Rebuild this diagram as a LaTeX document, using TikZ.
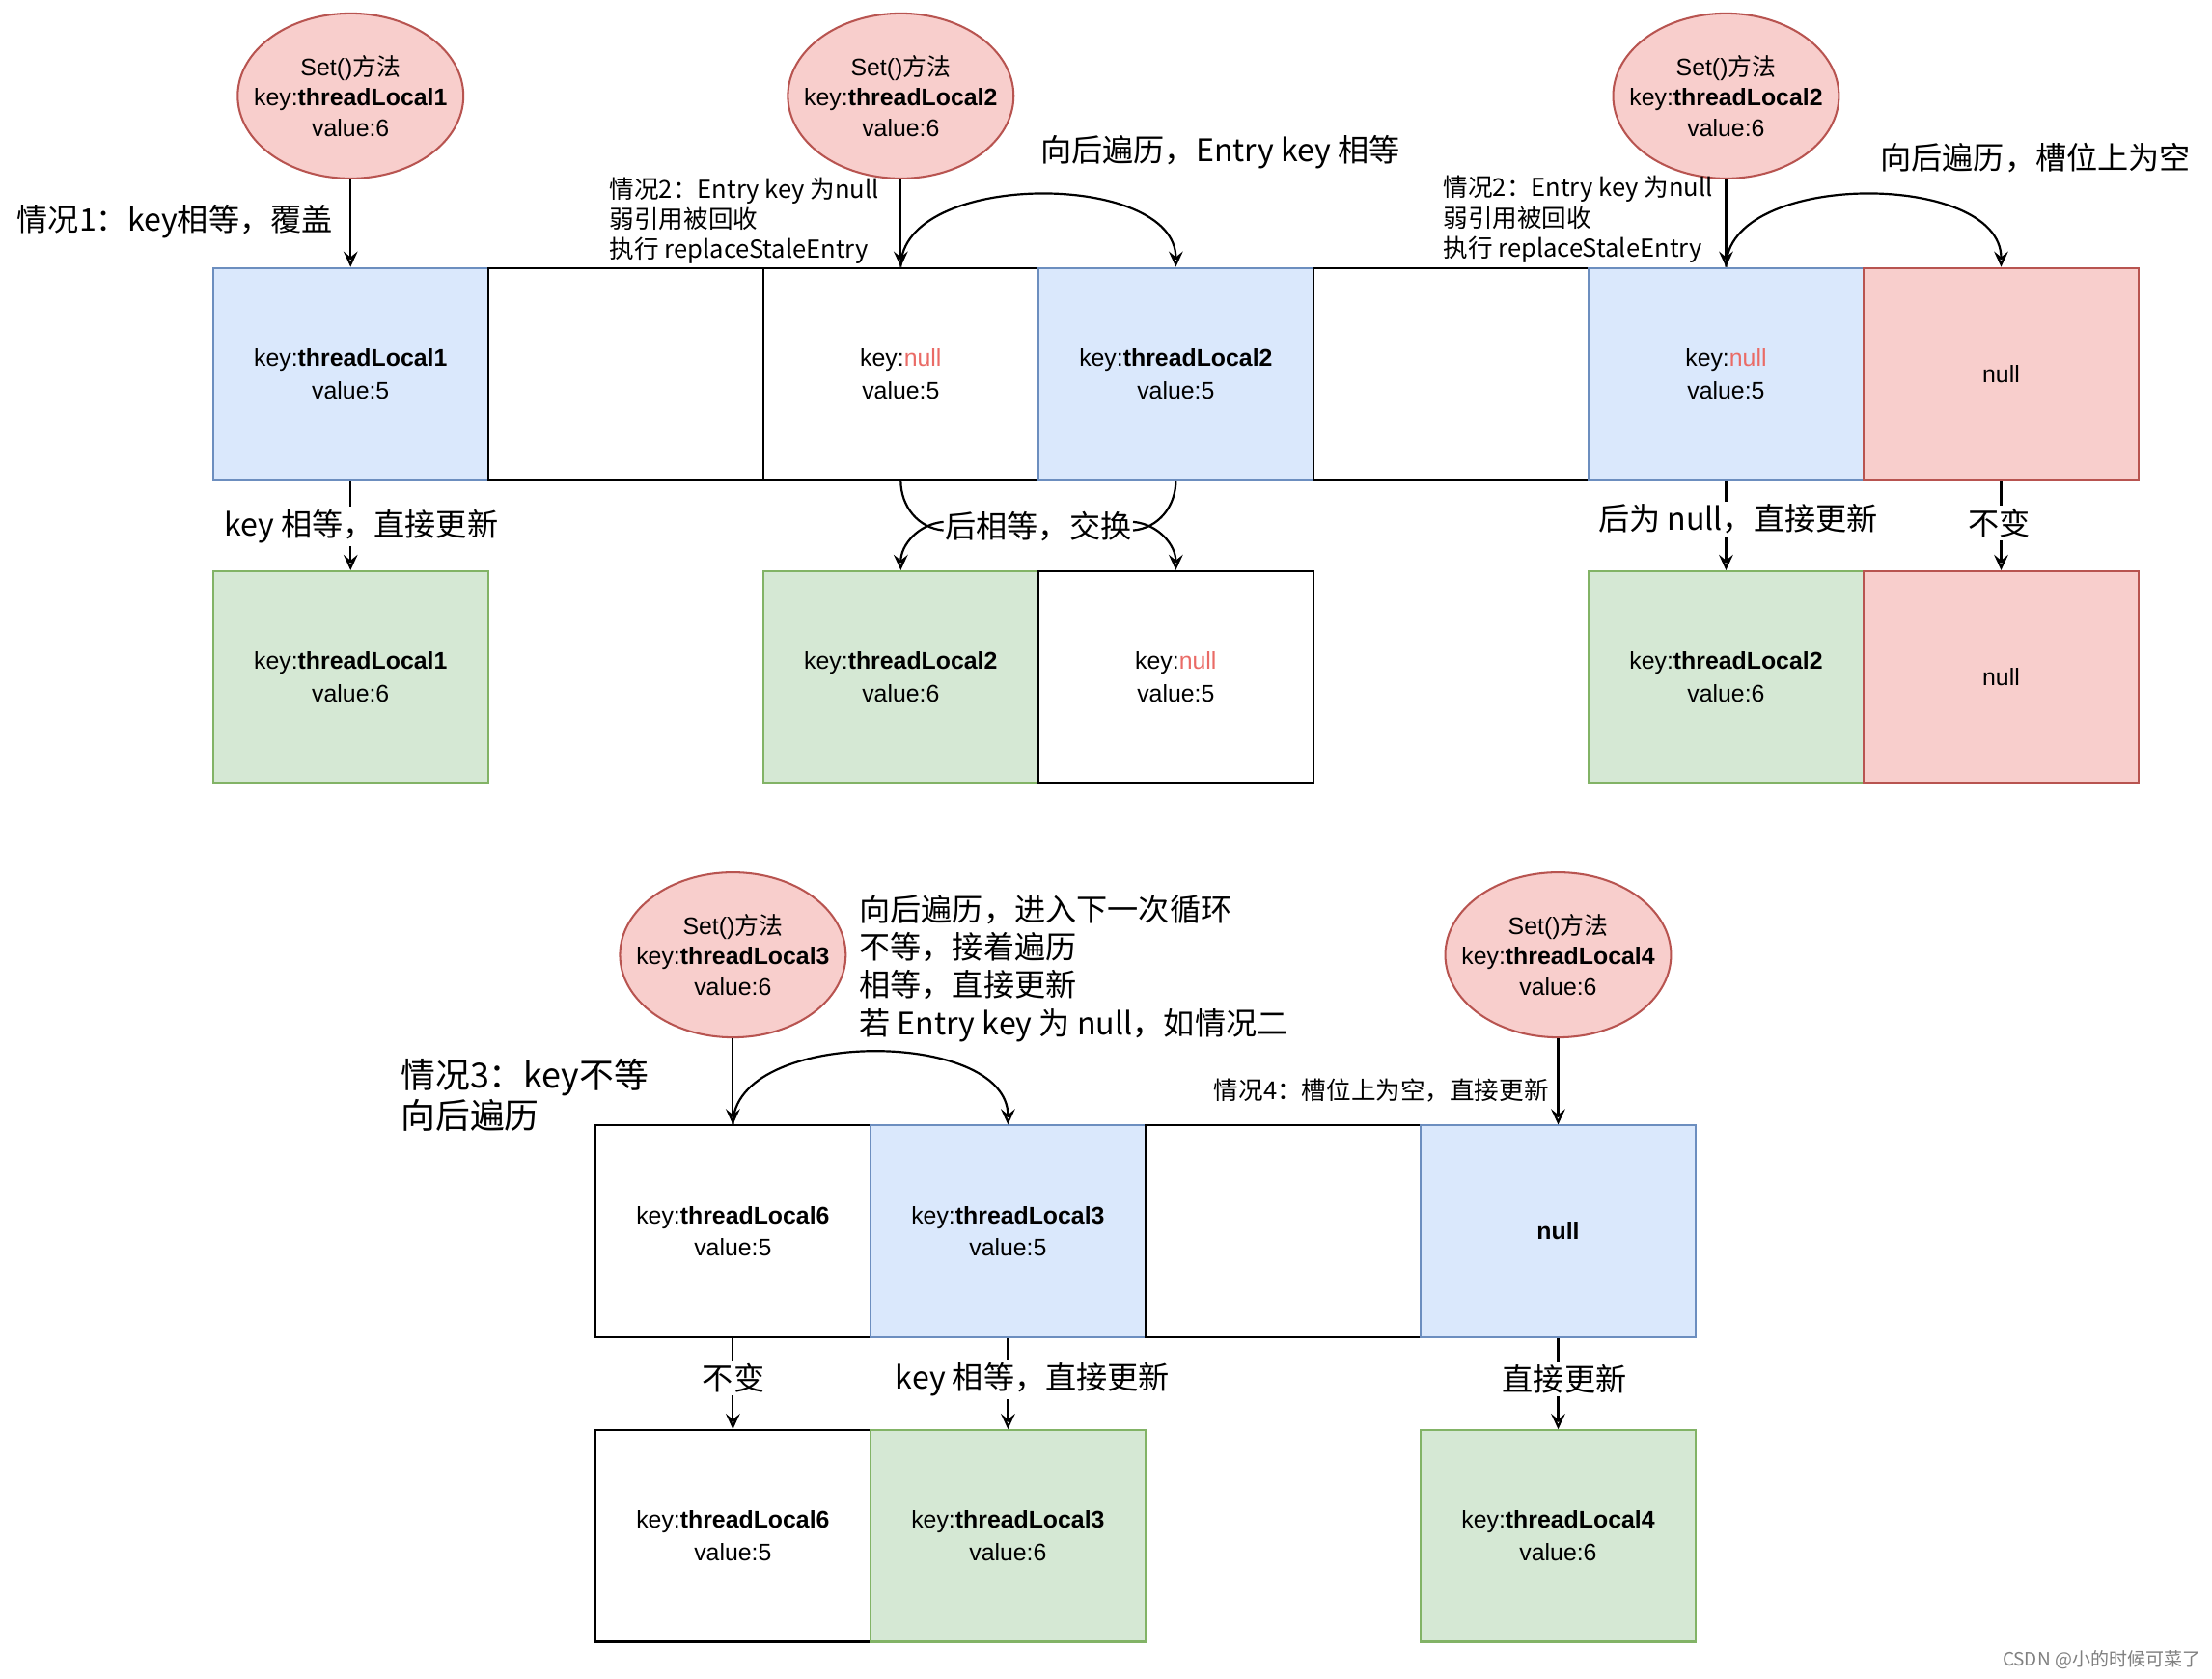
\documentclass[tikz,border=0pt]{standalone}
\usepackage{fontspec}
\setmainfont{Liberation Sans}
\newfontfamily\cjk{Noto Sans CJK SC}
\usetikzlibrary{shapes.geometric,arrows.meta}
\definecolor{bluef}{HTML}{DAE8FC}
\definecolor{blued}{HTML}{6C8EBF}
\definecolor{greenf}{HTML}{D5E8D4}
\definecolor{greend}{HTML}{82B366}
\definecolor{redf}{HTML}{F8CECC}
\definecolor{redd}{HTML}{B85450}
\definecolor{nullred}{HTML}{EA6B66}
\tikzset{
 cell/.style={draw, line width=1.4pt, minimum width=195pt, minimum height=150pt, inner sep=0pt, align=center, font=\fontsize{17}{23}\selectfont},
 bcell/.style={cell, fill=bluef, draw=blued},
 gcell/.style={cell, fill=greenf, draw=greend},
 rcell/.style={cell, fill=redf, draw=redd},
 wcell/.style={cell, fill=white, draw=black},
 setop/.style={ellipse, draw=redd, fill=redf, line width=1.4pt, minimum width=160pt, minimum height=117pt, inner xsep=-25pt, inner ysep=-5pt, align=center, font=\fontsize{17}{21.5}\selectfont},
 conn/.style={line width=1.5pt, -{Stealth[open,length=11pt,width=10pt,inset=4pt]}},
 plainline/.style={line width=1.5pt},
 big/.style={font=\cjk\fontsize{22}{27}\selectfont, inner sep=1pt},
 small/.style={font=\cjk\fontsize{17.5}{21.5}\selectfont, inner sep=1pt},
 elab/.style={big, fill=white, inner sep=2pt},
}
\begin{document}
\begin{tikzpicture}[x=1pt,y=-1pt]
\useasboundingbox (0,0) rectangle (1568,1190);
\fill[white] (0,0) rectangle (1568,1190);

% ellipses
\node[setop] (e1) at (248.5,68) {Set(){\cjk 方法}\\key:\textbf{threadLocal1}\\value:6};
\node[setop] (e2) at (638.5,68) {Set(){\cjk 方法}\\key:\textbf{threadLocal2}\\value:6};
\node[setop] (e3) at (1223.5,68) {Set(){\cjk 方法}\\key:\textbf{threadLocal2}\\value:6};
\node[setop] (e4) at (519.5,677) {Set(){\cjk 方法}\\key:\textbf{threadLocal3}\\value:6};
\node[setop] (e5) at (1104.5,677) {Set(){\cjk 方法}\\key:\textbf{threadLocal4}\\value:6};

% row 1
\node[bcell] (a1) at (248.5,265) {key:\textbf{threadLocal1}\\value:5};
\node[wcell] (a2) at (443.5,265) {};
\node[wcell] (a3) at (638.5,265) {key:\textcolor{nullred}{null}\\value:5};
\node[bcell] (a4) at (833.5,265) {key:\textbf{threadLocal2}\\value:5};
\node[wcell] (a5) at (1028.5,265) {};
\node[bcell] (a6) at (1223.5,265) {key:\textcolor{nullred}{null}\\value:5};
\node[rcell] (a7) at (1418.5,265) {null};

% row 2
\node[gcell] (b1) at (248.5,480) {key:\textbf{threadLocal1}\\value:6};
\node[gcell] (b3) at (638.5,480) {key:\textbf{threadLocal2}\\value:6};
\node[wcell] (b4) at (833.5,480) {key:\textcolor{nullred}{null}\\value:5};
\node[gcell] (b6) at (1223.5,480) {key:\textbf{threadLocal2}\\value:6};
\node[rcell] (b7) at (1418.5,480) {null};

% row 3
\node[wcell] (c1) at (519.5,873) {key:\textbf{threadLocal6}\\value:5};
\node[bcell] (c2) at (714.5,873) {key:\textbf{threadLocal3}\\value:5};
\node[wcell] (c3) at (909.5,873) {};
\node[bcell] (c4) at (1104.5,873) {\textbf{null}};

% row 4
\node[wcell] (d1) at (519.5,1089) {key:\textbf{threadLocal6}\\value:5};
\node[gcell] (d2) at (714.5,1089) {key:\textbf{threadLocal3}\\value:6};
\node[gcell] (d4) at (1104.5,1089) {key:\textbf{threadLocal4}\\value:6};

% free text labels
\node[big, anchor=west] (t1) at (11,157) {情况1：key相等，覆盖};
\node[small, anchor=west, align=left] (t2) at (431,156.5) {情况2：Entry key 为null\\弱引用被回收\\执行 replaceStaleEntry};
\node[big] (t3) at (865,108) {向后遍历，Entry key 相等};
\node[small, anchor=west, align=left] (t4) at (1022,155.5) {情况2：Entry key 为null\\弱引用被回收\\执行 replaceStaleEntry};
\node[big] (t5) at (1443,112) {向后遍历，槽位上为空};
\node[big, anchor=west, align=left] (t6) at (608,686.5) {向后遍历，进入下一次循环\\不等，接着遍历\\相等，直接更新\\若 Entry key 为 null，如情况二};
\node[font=\cjk\fontsize{24.5}{29}\selectfont, inner sep=1pt, anchor=west, align=left] (t7) at (283,776.5) {情况3：key不等\\向后遍历};
\node[small, anchor=east] (t8) at (1099,773) {情况4：槽位上为空，直接更新};
\node[font=\cjk\fontsize{13}{15}\selectfont, text=gray, anchor=east, inner sep=0pt] (wm) at (1560,1177) {CSDN @小的时候可菜了};

% connectors from ellipses
\draw[conn] (e1.south) -- (a1.north);
\draw[conn] (e2.south) -- (a3.north);
\draw[conn] (e3.south) -- (a6.north);
\draw[conn] (e4.south) -- (c1.north);
\draw[conn] (e5.south) -- (c4.north);

% traversal arcs
\draw[conn] (a3.north) to[out=90,in=90,looseness=0.9] (a4.north);
\draw[conn] (a6.north) to[out=90,in=90,looseness=0.9] (a7.north);
\draw[conn] (c1.north) to[out=90,in=90,looseness=0.9] (c2.north);

% vertical update edges with labels
\draw[conn] (a1.south) -- (b1.north);
\node[elab] (l1) at (256,373) {key 相等，直接更新};
\draw[conn] (a6.south) -- (b6.north);
\node[elab] (l3) at (1232,368) {后为 null，直接更新};
\draw[conn] (a7.south) -- (b7.north);
\node[elab] (l4) at (1417,371) {不变};
\draw[conn] (c1.south) -- (d1.north);
\node[elab] (l5) at (520,977) {不变};
\draw[conn] (c2.south) -- (d2.north);
\node[elab] (l6) at (732,978) {key 相等，直接更新};
\draw[conn] (c4.south) -- (d4.north);
\node[elab] (l7) at (1109,978) {直接更新};

% swap edges
\node[big] (l2) at (736,373) {后相等，交换};
\draw[plainline] (a3.south) to[out=-90,in=175] ([yshift=-3pt]l2.west);
\draw[conn] ([yshift=3pt]l2.west) to[out=185,in=90] (b3.north);
\draw[plainline] (a4.south) to[out=-90,in=5] ([yshift=-3pt]l2.east);
\draw[conn] ([yshift=3pt]l2.east) to[out=-5,in=90] (b4.north);
\end{tikzpicture}
\end{document}
